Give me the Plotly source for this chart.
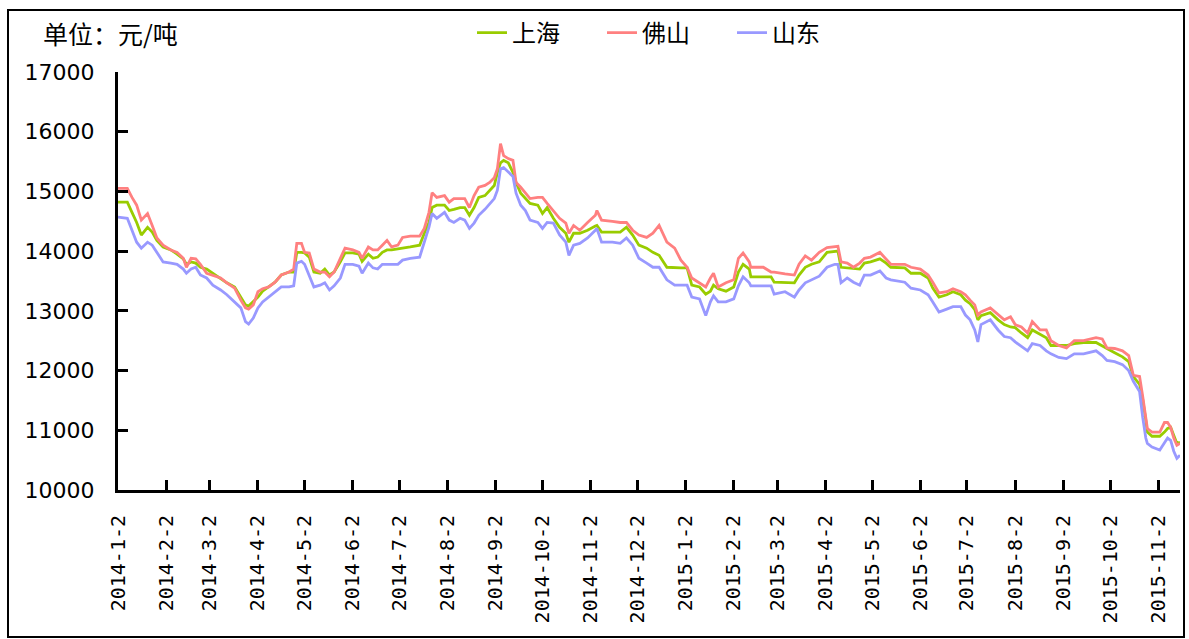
import plotly.graph_objects as go

dates = [
    "2014-01-02", "2014-01-08", "2014-01-11", "2014-01-14", "2014-01-17", "2014-01-21", "2014-01-24", "2014-01-27",
    "2014-01-31", "2014-02-05", "2014-02-09", "2014-02-13", "2014-02-15", "2014-02-18", "2014-02-21", "2014-02-24",
    "2014-02-28", "2014-03-04", "2014-03-09", "2014-03-13", "2014-03-18", "2014-03-22", "2014-03-25", "2014-03-27",
    "2014-03-30", "2014-04-02", "2014-04-05", "2014-04-09", "2014-04-13", "2014-04-17", "2014-04-22", "2014-04-25",
    "2014-04-27", "2014-04-30", "2014-05-02", "2014-05-05", "2014-05-08", "2014-05-12", "2014-05-15", "2014-05-18",
    "2014-05-21", "2014-05-25", "2014-05-28", "2014-06-02", "2014-06-06", "2014-06-08", "2014-06-12", "2014-06-15",
    "2014-06-18", "2014-06-21", "2014-06-24", "2014-06-27", "2014-07-01", "2014-07-04", "2014-07-09", "2014-07-15",
    "2014-07-18", "2014-07-21", "2014-07-23", "2014-07-26", "2014-07-31", "2014-08-03", "2014-08-06", "2014-08-10",
    "2014-08-13", "2014-08-16", "2014-08-19", "2014-08-22", "2014-08-26", "2014-08-29", "2014-09-01", "2014-09-03",
    "2014-09-05", "2014-09-07", "2014-09-10", "2014-09-13", "2014-09-15", "2014-09-18", "2014-09-21", "2014-09-24",
    "2014-09-29", "2014-10-02", "2014-10-05", "2014-10-09", "2014-10-13", "2014-10-17", "2014-10-19", "2014-10-22",
    "2014-10-26", "2014-10-31", "2014-11-05", "2014-11-06", "2014-11-09", "2014-11-16", "2014-11-21", "2014-11-25",
    "2014-11-29", "2014-12-03", "2014-12-08", "2014-12-12", "2014-12-16", "2014-12-21", "2014-12-26", "2014-12-30",
    "2015-01-03", "2015-01-06", "2015-01-11", "2015-01-15", "2015-01-18", "2015-01-20", "2015-01-23", "2015-01-28",
    "2015-02-02", "2015-02-05", "2015-02-08", "2015-02-12", "2015-02-13", "2015-02-21", "2015-02-26", "2015-02-28",
    "2015-03-07", "2015-03-13", "2015-03-16", "2015-03-20", "2015-03-24", "2015-03-29", "2015-04-03", "2015-04-08",
    "2015-04-10", "2015-04-12", "2015-04-16", "2015-04-20", "2015-04-24", "2015-04-27", "2015-05-01", "2015-05-07",
    "2015-05-11", "2015-05-14", "2015-05-23", "2015-05-27", "2015-06-02", "2015-06-07", "2015-06-10", "2015-06-14",
    "2015-06-19", "2015-06-23", "2015-06-28", "2015-07-01", "2015-07-04", "2015-07-07", "2015-07-09", "2015-07-11",
    "2015-07-17", "2015-07-22", "2015-07-26", "2015-07-30", "2015-08-02", "2015-08-06", "2015-08-10", "2015-08-13",
    "2015-08-18", "2015-08-22", "2015-08-25", "2015-08-30", "2015-09-04", "2015-09-09", "2015-09-15", "2015-09-23",
    "2015-09-27", "2015-09-30", "2015-10-05", "2015-10-10", "2015-10-14", "2015-10-17", "2015-10-21", "2015-10-23",
    "2015-10-25", "2015-10-26", "2015-10-29", "2015-11-03", "2015-11-06", "2015-11-08", "2015-11-10", "2015-11-12",
    "2015-11-14", "2015-11-16",
]

shanghai = [
    14820, 14820, 14650, 14480, 14270, 14400, 14320, 14180, 14070, 14020, 13950, 13870, 13780, 13820, 13800, 13730,
    13700, 13630, 13550, 13470, 13400, 13230, 13100, 13080, 13150, 13230, 13330, 13400, 13480, 13600, 13650, 13650,
    13980, 13980, 13970, 13900, 13650, 13630, 13700, 13600, 13650, 13820, 13970, 13970, 13950, 13830, 13950, 13880,
    13900, 13980, 14020, 14020, 14030, 14050, 14070, 14100, 14300, 14480, 14730, 14770, 14770, 14680, 14700, 14730,
    14730, 14600, 14730, 14900, 14930, 15020, 15100, 15320, 15480, 15520, 15480, 15320, 15150, 14970, 14880, 14800,
    14770, 14630, 14730, 14550, 14400, 14300, 14150, 14300, 14300, 14350, 14420, 14430, 14320, 14320, 14320, 14400,
    14270, 14100, 14050, 13980, 13930, 13730, 13720, 13720, 13720, 13430, 13400, 13280, 13330, 13430, 13370, 13330,
    13400, 13650, 13780, 13700, 13570, 13570, 13570, 13480, 13480, 13470, 13600, 13730, 13780, 13820, 13980, 14000,
    14000, 13730, 13720, 13700, 13700, 13800, 13820, 13870, 13800, 13730, 13720, 13630, 13630, 13550, 13380, 13230,
    13270, 13320, 13270, 13180, 13120, 13020, 12850, 12920, 12970, 12850, 12770, 12730, 12720, 12630, 12550, 12680,
    12600, 12550, 12420, 12420, 12420, 12450, 12470, 12470, 12420, 12370, 12300, 12230, 12150, 11900, 11770, 11520,
    11170, 10970, 10900, 10900, 10970, 11030, 11050, 10900, 10780, 10800,
]

foshan = [
    15050, 15050, 14900, 14770, 14520, 14630, 14430, 14220, 14100, 14020, 13980, 13880, 13730, 13880, 13870, 13780,
    13630, 13600, 13550, 13470, 13380, 13180, 13050, 13030, 13100, 13320, 13370, 13400, 13480, 13600, 13650, 13700,
    14130, 14130, 13980, 13970, 13700, 13650, 13650, 13570, 13650, 13880, 14050, 14020, 13980, 13880, 14070, 14020,
    14020, 14100, 14180, 14070, 14100, 14230, 14250, 14250, 14380, 14650, 14980, 14900, 14930, 14820, 14880, 14880,
    14880, 14730, 14930, 15070, 15100, 15150, 15230, 15380, 15800, 15600, 15550, 15520, 15150, 15070, 14980, 14880,
    14900, 14900, 14800, 14680, 14550, 14470, 14300, 14430, 14350, 14480, 14600, 14680, 14520, 14500, 14480, 14480,
    14350, 14270, 14230, 14300, 14430, 14150, 14050, 13850, 13730, 13550, 13470, 13400, 13550, 13630, 13400, 13470,
    13520, 13880, 13970, 13820, 13730, 13730, 13650, 13650, 13620, 13600, 13780, 13920, 13850, 13980, 14060, 14080,
    14080, 13820, 13800, 13730, 13800, 13880, 13900, 13980, 13870, 13780, 13780, 13730, 13700, 13600, 13480, 13300,
    13320, 13370, 13320, 13270, 13180, 13100, 12930, 12980, 13050, 12930, 12850, 12900, 12770, 12730, 12630, 12820,
    12680, 12680, 12500, 12420, 12380, 12500, 12500, 12550, 12530, 12380, 12370, 12330, 12250, 11920, 11900, 11570,
    11220, 11030, 10970, 10970, 11130, 11130, 11050, 10870, 10750, 10780,
]

shandong = [
    14570, 14550, 14350, 14150, 14050, 14150, 14100, 13980, 13820, 13800, 13780, 13700, 13630, 13700, 13730, 13600,
    13550, 13430, 13350, 13270, 13150, 13050, 12820, 12780, 12880, 13050, 13150, 13230, 13320, 13400, 13400, 13420,
    13800, 13830, 13780, 13600, 13400, 13430, 13470, 13350, 13420, 13550, 13780, 13780, 13750, 13630, 13800, 13720,
    13700, 13780, 13780, 13780, 13780, 13850, 13880, 13900, 14150, 14400, 14630, 14550, 14650, 14520, 14480, 14550,
    14520, 14380, 14470, 14600, 14700, 14800, 14880, 15020, 15380, 15400, 15320, 15250, 14970, 14770, 14680, 14520,
    14480, 14380, 14480, 14470, 14270, 14150, 13930, 14100, 14130, 14220, 14350, 14380, 14150, 14150, 14130, 14220,
    14100, 13880, 13800, 13730, 13730, 13520, 13430, 13430, 13430, 13230, 13200, 12920, 13150, 13250, 13150, 13150,
    13200, 13420, 13570, 13470, 13420, 13420, 13420, 13280, 13320, 13230, 13350, 13470, 13520, 13580, 13730, 13780,
    13780, 13470, 13550, 13480, 13430, 13600, 13600, 13670, 13550, 13520, 13480, 13380, 13350, 13270, 13150, 12980,
    13030, 13070, 13070, 12930, 12850, 12680, 12480, 12770, 12850, 12680, 12570, 12550, 12480, 12400, 12330, 12450,
    12420, 12330, 12280, 12220, 12200, 12280, 12280, 12330, 12250, 12170, 12150, 12100, 12000, 11820, 11650, 11220,
    10870, 10780, 10720, 10670, 10800, 10870, 10830, 10650, 10530, 10580,
]

tick_dates = [
    "2014-01-02", "2014-02-02", "2014-03-02", "2014-04-02", "2014-05-02", "2014-06-02", "2014-07-02", "2014-08-02",
    "2014-09-02", "2014-10-02", "2014-11-02", "2014-12-02", "2015-01-02", "2015-02-02", "2015-03-02", "2015-04-02",
    "2015-05-02", "2015-06-02", "2015-07-02", "2015-08-02", "2015-09-02", "2015-10-02", "2015-11-02",
]
tick_labels = [
    "2014-1-2", "2014-2-2", "2014-3-2", "2014-4-2", "2014-5-2", "2014-6-2", "2014-7-2", "2014-8-2",
    "2014-9-2", "2014-10-2", "2014-11-2", "2014-12-2", "2015-1-2", "2015-2-2", "2015-3-2", "2015-4-2",
    "2015-5-2", "2015-6-2", "2015-7-2", "2015-8-2", "2015-9-2", "2015-10-2", "2015-11-2",
]

series_names = ["上海", "佛山", "山东"]
series_colors = ["#99CC00", "#FF8080", "#9999FF"]
series_values = [shanghai, foshan, shandong]

W, H = 1189, 639
L, R, T, B = 118, 9, 72, 149
pw, ph = W - L - R, H - T - B

fig = go.Figure()
for name, color, vals in zip(series_names, series_colors, series_values):
    fig.add_trace(go.Scatter(x=dates, y=vals, mode="lines", name=name,
                             line=dict(color=color, width=2.8)))

cjk = "Noto Sans CJK SC"

fig.update_layout(
    width=W, height=H,
    margin=dict(l=L, r=R, t=T, b=B, autoexpand=False),
    paper_bgcolor="white", plot_bgcolor="white",
    showlegend=True,
    legend=dict(orientation="h", xref="container", yref="container",
                x=472 / W, y=1 - 33 / H, xanchor="left", yanchor="middle",
                font=dict(family=cjk, size=24, color="#000000"),
                entrywidthmode="pixels", entrywidth=85,
                bgcolor="rgba(0,0,0,0)"),
    xaxis=dict(type="date", range=["2014-01-02", "2015-11-16"], automargin=False,
               tickmode="array", tickvals=tick_dates, ticktext=tick_labels,
               tickangle=-90, ticks="inside", ticklen=10, tickwidth=3, tickcolor="black",
               showline=True, linecolor="black", linewidth=3, showgrid=False, zeroline=False,
               ticklabelstandoff=14,
               tickfont=dict(family="DejaVu Sans Mono", size=20, color="black")),
    yaxis=dict(range=[10000, 17000], tickmode="linear", tick0=10000, dtick=1000,
               tickformat="d", automargin=False,
               ticks="inside", ticklen=10, tickwidth=3, tickcolor="black",
               showline=True, linecolor="black", linewidth=3, showgrid=False, zeroline=False,
               ticklabelstandoff=16,
               tickfont=dict(family="DejaVu Sans", size=22, color="black")),
)

fig.add_annotation(text="单位：元/吨", xref="paper", yref="paper",
                   x=(41 - L) / pw, y=(H - B - 33) / ph, xanchor="left", yanchor="middle",
                   showarrow=False, font=dict(family=cjk, size=25, color="black"))

fig.add_shape(type="rect", xref="paper", yref="paper",
              x0=(8 - L) / pw, x1=(1184 - L) / pw,
              y0=(H - B - 637) / ph, y1=(H - B - 10) / ph,
              line=dict(color="black", width=2), fillcolor="rgba(0,0,0,0)", layer="below")

fig.write_html("out.html", config={"displayModeBar": False},
               post_script="document.body.style.margin='0';document.body.style.padding='0';")
